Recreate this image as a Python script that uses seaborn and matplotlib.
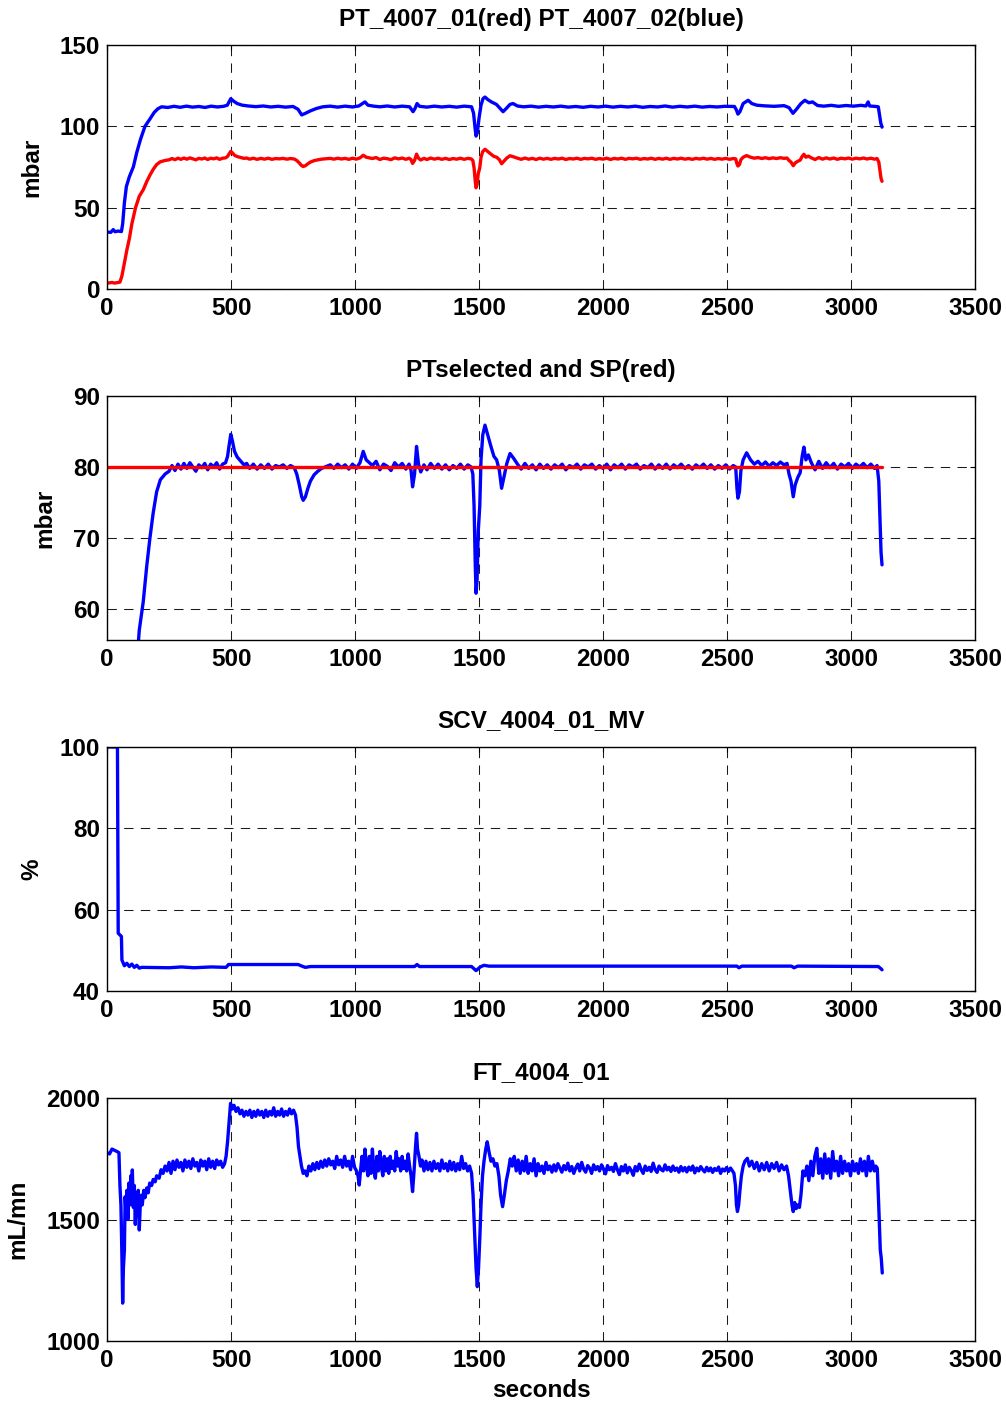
import matplotlib
matplotlib.use("Agg")
import matplotlib.pyplot as plt
import pandas as pd
import seaborn as sns

# ---- data (time in s, value) ----

# PT_4007_02 (mbar), blue in the top panel
pt02 = [(0, 35.0), (15, 34.8), (25, 36.5), (32, 35.2), (45, 35.6), (58, 35.3), (63, 40), (70, 53),
        (78, 63), (90, 69), (106, 75), (120, 84), (135, 92), (153, 100), (173, 104.5), (190, 108.5),
        (205, 110.8), (220, 112), (245, 111.6), (270, 112.3), (295, 111.7), (320, 112.4), (345, 111.8),
        (370, 112.2), (395, 111.6), (420, 112.4), (445, 111.9), (470, 112.3), (485, 113), (499, 117),
        (510, 115.5), (525, 114), (545, 113), (570, 112.5), (600, 112.1), (630, 112.5), (660, 111.9),
        (690, 112.3), (720, 111.8), (750, 112.2), (770, 110.5), (785, 107), (800, 108), (820, 109.5),
        (845, 111), (870, 112), (900, 112.4), (930, 111.8), (960, 112.4), (990, 111.9), (1015, 112.5),
        (1030, 114), (1040, 115), (1052, 113), (1075, 112.4), (1100, 112.0), (1130, 112.5), (1160, 111.9),
        (1190, 112.4), (1220, 112.0), (1234, 109), (1242, 111), (1250, 114), (1260, 112.3), (1290, 111.8),
        (1320, 112.4), (1350, 111.9), (1380, 112.3), (1410, 111.8), (1440, 112.4), (1470, 112.0),
        (1478, 108), (1484, 99), (1488, 94), (1493, 96), (1500, 105), (1508, 113), (1516, 117),
        (1524, 118), (1535, 116.5), (1550, 115), (1570, 113.5), (1585, 111), (1597, 109), (1610, 111),
        (1625, 113.5), (1637, 114), (1655, 112.5), (1680, 112), (1710, 112.4), (1740, 111.8),
        (1770, 112.3), (1800, 111.9), (1830, 112.4), (1860, 111.8), (1890, 112.2), (1920, 111.7),
        (1950, 112.3), (1980, 111.9), (2010, 112.4), (2040, 111.8), (2070, 112.3), (2100, 111.9),
        (2130, 112.4), (2160, 111.7), (2190, 112.2), (2220, 111.9), (2250, 112.5), (2280, 111.8),
        (2310, 112.3), (2340, 111.9), (2370, 112.4), (2400, 111.8), (2430, 112.2), (2460, 111.9),
        (2490, 112.3), (2530, 112.2), (2538, 110), (2544, 107.5), (2552, 109), (2565, 114), (2585, 116),
        (2600, 114), (2620, 113), (2650, 112.6), (2690, 112.3), (2730, 112.7), (2750, 111.5), (2766, 108),
        (2780, 110.5), (2798, 114), (2814, 116), (2830, 114.5), (2845, 115), (2865, 112.8), (2890, 112.4),
        (2920, 112.9), (2950, 112.3), (2980, 112.8), (3010, 112.4), (3040, 112.9), (3060, 112.5),
        (3069, 115), (3075, 112.5), (3100, 112.2), (3110, 112.0), (3115, 107), (3120, 102), (3125, 99.5)]

# PT_4007_01 (mbar), red in the top panel, also the selected PT
pt01 = [(0, 3.5), (20, 4.0), (30, 3.6), (40, 3.9), (52, 4.2), (60, 8), (70, 16), (80, 24), (90, 31),
        (100, 40), (115, 50), (130, 57), (146, 61), (160, 66), (173, 70), (186, 73.5), (200, 76.5),
        (215, 78.2), (234, 79.0), (250, 79.4), (262, 80.2), (274, 79.5), (286, 80.4), (298, 79.7),
        (310, 80.5), (322, 79.8), (334, 80.6), (346, 80.0), (358, 79.4), (370, 80.3), (382, 79.9),
        (394, 80.5), (406, 79.6), (418, 80.4), (430, 80.0), (442, 80.6), (454, 79.7), (466, 80.4),
        (478, 80.6), (486, 81.5), (492, 83.0), (499, 84.6), (506, 83.6), (514, 82.2), (525, 81.4),
        (540, 80.8), (552, 80.3), (563, 80.5), (575, 79.8), (590, 80.4), (605, 79.7), (620, 80.3),
        (635, 79.8), (650, 80.4), (665, 79.7), (680, 80.2), (695, 80.0), (710, 80.3), (725, 79.8),
        (740, 80.2), (755, 79.9), (765, 79.0), (775, 77.5), (785, 75.8), (791, 75.3), (800, 75.8),
        (810, 77.0), (820, 78.0), (835, 78.9), (850, 79.4), (865, 79.8), (886, 80.1), (900, 80.3),
        (915, 79.8), (930, 80.4), (945, 79.9), (960, 80.3), (975, 79.7), (990, 80.4), (1005, 79.8),
        (1020, 80.6), (1033, 82.2), (1045, 81.0), (1058, 80.6), (1070, 80.2), (1085, 80.8), (1100, 79.6),
        (1115, 80.4), (1130, 80.1), (1145, 79.5), (1160, 80.6), (1175, 80.0), (1190, 80.5), (1205, 79.7),
        (1218, 80.4), (1226, 79.5), (1232, 77.2), (1240, 79.0), (1248, 82.9), (1256, 80.4), (1265, 79.3),
        (1278, 80.3), (1290, 79.6), (1305, 80.5), (1320, 79.8), (1335, 80.4), (1350, 79.7), (1365, 80.3),
        (1380, 79.6), (1395, 80.2), (1410, 79.8), (1425, 80.4), (1440, 79.7), (1455, 80.3), (1468, 80.0),
        (1475, 79.0), (1480, 74.5), (1485, 66.0), (1488, 62.2), (1492, 64.0), (1497, 71.0), (1503, 74.5),
        (1508, 81.0), (1515, 84.5), (1524, 85.9), (1535, 84.5), (1548, 82.9), (1560, 81.5), (1571, 81.0),
        (1582, 79.5), (1591, 77.0), (1600, 78.5), (1612, 80.5), (1625, 81.9), (1640, 81.2), (1655, 80.4),
        (1670, 79.7), (1685, 80.5), (1700, 79.8), (1715, 80.3), (1730, 79.6), (1745, 80.4), (1760, 79.8),
        (1775, 80.3), (1790, 79.7), (1805, 80.3), (1820, 79.9), (1835, 80.4), (1850, 79.6), (1865, 80.2),
        (1880, 79.9), (1895, 80.4), (1910, 79.7), (1925, 80.3), (1940, 80.0), (1955, 80.4), (1970, 79.7),
        (1985, 80.2), (2000, 79.8), (2015, 80.4), (2030, 79.6), (2045, 80.3), (2060, 79.9), (2075, 80.4),
        (2090, 79.7), (2105, 80.3), (2120, 80.0), (2135, 80.4), (2150, 79.7), (2165, 80.2), (2180, 79.9),
        (2195, 80.4), (2210, 79.7), (2225, 80.3), (2240, 79.8), (2255, 80.4), (2270, 79.7), (2285, 80.3),
        (2300, 79.9), (2315, 80.4), (2330, 79.8), (2345, 80.2), (2360, 79.7), (2375, 80.3), (2390, 79.9),
        (2405, 80.4), (2420, 79.8), (2435, 80.3), (2450, 79.7), (2465, 80.2), (2480, 79.8), (2495, 80.3),
        (2510, 79.7), (2525, 80.2), (2535, 80.0), (2540, 77.0), (2544, 75.6), (2550, 76.5), (2556, 79.5),
        (2565, 81.0), (2579, 82.0), (2595, 81.0), (2610, 80.4), (2625, 80.8), (2640, 80.2), (2655, 80.7),
        (2670, 80.1), (2685, 80.6), (2700, 80.2), (2715, 80.7), (2730, 80.3), (2742, 80.5), (2750, 79.0),
        (2758, 78.0), (2767, 75.8), (2775, 77.5), (2785, 78.5), (2795, 79.2), (2803, 81.5), (2810, 82.8),
        (2818, 81.0), (2828, 81.7), (2840, 80.6), (2855, 79.6), (2870, 80.8), (2885, 79.8), (2900, 80.6),
        (2915, 79.9), (2930, 80.5), (2945, 79.7), (2960, 80.4), (2975, 80.0), (2990, 80.5), (3005, 79.8),
        (3020, 80.4), (3035, 80.0), (3050, 80.5), (3065, 79.9), (3080, 80.4), (3095, 79.8), (3105, 80.2),
        (3112, 78.0), (3115, 74.6), (3119, 70.0), (3121, 68.0), (3125, 66.2)]

# pressure set point (mbar)
sp = [(0, 80), (3125, 80)]

# SCV_4004_01_MV (%)
scv = [(0, 100), (42, 100), (45, 54.2), (58, 53.4), (60, 47.6), (70, 46.2), (80, 46.8), (90, 46.0),
       (100, 46.6), (110, 45.8), (120, 46.3), (130, 45.6), (140, 45.8), (250, 45.7), (300, 45.9),
       (350, 45.7), (420, 45.9), (480, 45.8), (490, 46.5), (770, 46.5), (790, 46.0), (800, 45.8),
       (820, 46.0), (1240, 46.0), (1250, 46.5), (1260, 46.0), (1470, 46.0), (1488, 45.0), (1505, 45.9),
       (1520, 46.3), (1540, 46.1), (2540, 46.1), (2548, 45.7), (2560, 46.1), (2760, 46.1), (2770, 45.7),
       (2785, 46.1), (3110, 46.0), (3120, 45.5), (3125, 45.2)]

# FT_4004_01 (mL/mn)
ft = [(0, 1775), (10, 1770), (20, 1790), (30, 1785), (40, 1780), (48, 1775), (52, 1640), (56, 1560),
      (60, 1350), (63, 1156), (66, 1300), (70, 1375), (73, 1594), (77, 1520), (80, 1620), (84, 1500),
      (88, 1650), (92, 1560), (96, 1680), (100, 1600), (102, 1704), (106, 1550), (110, 1640), (114, 1480),
      (118, 1610), (122, 1520), (126, 1620), (130, 1457), (134, 1560), (138, 1600), (142, 1560),
      (148, 1620), (153, 1590), (160, 1630), (166, 1610), (172, 1650), (180, 1640), (186, 1665),
      (194, 1655), (200, 1680), (210, 1670), (218, 1705), (226, 1690), (234, 1720), (242, 1700),
      (250, 1735), (258, 1690), (266, 1740), (274, 1705), (282, 1745), (290, 1715), (298, 1735),
      (306, 1700), (314, 1745), (322, 1715), (330, 1740), (338, 1710), (346, 1750), (354, 1720),
      (362, 1735), (370, 1700), (378, 1745), (386, 1720), (394, 1740), (402, 1705), (410, 1750),
      (418, 1715), (426, 1740), (434, 1710), (442, 1745), (450, 1725), (458, 1740), (466, 1715),
      (474, 1730), (480, 1760), (486, 1820), (492, 1900), (498, 1978), (505, 1955), (512, 1970),
      (520, 1945), (528, 1960), (536, 1935), (544, 1950), (552, 1925), (560, 1945), (568, 1930),
      (576, 1950), (584, 1920), (592, 1945), (600, 1925), (608, 1950), (616, 1930), (624, 1945),
      (632, 1920), (640, 1950), (648, 1925), (656, 1945), (664, 1930), (672, 1960), (680, 1925),
      (688, 1945), (696, 1930), (704, 1955), (712, 1925), (720, 1945), (728, 1930), (736, 1955),
      (744, 1935), (752, 1950), (760, 1930), (766, 1880), (772, 1800), (778, 1760), (784, 1720),
      (791, 1690), (798, 1700), (806, 1680), (814, 1720), (822, 1700), (830, 1730), (838, 1705),
      (846, 1735), (854, 1710), (862, 1740), (870, 1715), (878, 1745), (886, 1720), (894, 1750),
      (902, 1725), (910, 1740), (918, 1710), (926, 1760), (934, 1725), (942, 1745), (950, 1715),
      (958, 1760), (966, 1720), (974, 1740), (982, 1705), (990, 1760), (998, 1715), (1006, 1700),
      (1012, 1680), (1017, 1642), (1022, 1700), (1028, 1760), (1034, 1700), (1040, 1790), (1046, 1720),
      (1052, 1680), (1058, 1760), (1064, 1690), (1070, 1790), (1076, 1700), (1082, 1670), (1088, 1760),
      (1094, 1700), (1100, 1780), (1106, 1720), (1112, 1680), (1118, 1760), (1124, 1700), (1130, 1750),
      (1136, 1690), (1142, 1760), (1148, 1710), (1154, 1740), (1160, 1700), (1166, 1780), (1172, 1720),
      (1178, 1750), (1184, 1700), (1190, 1760), (1196, 1710), (1202, 1740), (1208, 1700), (1214, 1770),
      (1220, 1720), (1226, 1680), (1232, 1615), (1238, 1700), (1244, 1800), (1248, 1855), (1252, 1790),
      (1258, 1760), (1264, 1720), (1270, 1745), (1278, 1700), (1286, 1740), (1294, 1705), (1302, 1735),
      (1310, 1700), (1318, 1740), (1326, 1710), (1334, 1730), (1342, 1700), (1350, 1745), (1358, 1710),
      (1366, 1730), (1374, 1700), (1382, 1740), (1390, 1705), (1398, 1735), (1406, 1700), (1414, 1730),
      (1422, 1705), (1430, 1760), (1438, 1710), (1446, 1730), (1454, 1700), (1462, 1720), (1470, 1690),
      (1476, 1600), (1482, 1450), (1488, 1300), (1493, 1224), (1498, 1300), (1503, 1420), (1508, 1560),
      (1514, 1680), (1520, 1740), (1527, 1790), (1533, 1820), (1540, 1780), (1548, 1740), (1556, 1750),
      (1564, 1720), (1572, 1730), (1580, 1680), (1587, 1600), (1595, 1553), (1602, 1600), (1610, 1660),
      (1618, 1700), (1626, 1750), (1634, 1720), (1642, 1760), (1650, 1700), (1658, 1745), (1666, 1690),
      (1674, 1740), (1682, 1700), (1690, 1760), (1698, 1690), (1706, 1730), (1714, 1700), (1722, 1750),
      (1730, 1680), (1738, 1730), (1746, 1700), (1754, 1720), (1762, 1690), (1770, 1735), (1778, 1705),
      (1786, 1720), (1794, 1695), (1802, 1725), (1810, 1700), (1818, 1730), (1826, 1712), (1834, 1695),
      (1842, 1722), (1850, 1705), (1858, 1732), (1866, 1700), (1874, 1718), (1882, 1690), (1890, 1712),
      (1898, 1728), (1906, 1700), (1914, 1735), (1922, 1708), (1930, 1695), (1938, 1722), (1946, 1712),
      (1954, 1690), (1962, 1725), (1970, 1705), (1978, 1718), (1986, 1700), (1994, 1725), (2002, 1708),
      (2010, 1688), (2018, 1722), (2026, 1705), (2034, 1715), (2042, 1698), (2050, 1730), (2058, 1705),
      (2066, 1685), (2074, 1718), (2082, 1700), (2090, 1725), (2098, 1692), (2106, 1715), (2114, 1702),
      (2122, 1682), (2130, 1718), (2138, 1700), (2146, 1728), (2154, 1705), (2162, 1690), (2170, 1720),
      (2178, 1702), (2186, 1715), (2194, 1698), (2202, 1732), (2210, 1705), (2218, 1694), (2226, 1720),
      (2234, 1706), (2242, 1700), (2250, 1725), (2258, 1704), (2266, 1715), (2274, 1698), (2282, 1720),
      (2290, 1702), (2298, 1712), (2306, 1695), (2314, 1718), (2322, 1700), (2330, 1714), (2338, 1696),
      (2346, 1716), (2354, 1703), (2362, 1720), (2370, 1692), (2378, 1712), (2386, 1700), (2394, 1718),
      (2402, 1705), (2410, 1696), (2418, 1715), (2426, 1700), (2434, 1712), (2442, 1694), (2450, 1710),
      (2458, 1702), (2466, 1716), (2474, 1690), (2482, 1708), (2490, 1700), (2498, 1714), (2506, 1698),
      (2514, 1712), (2522, 1700), (2528, 1690), (2534, 1640), (2538, 1560), (2542, 1533), (2547, 1560),
      (2552, 1620), (2558, 1680), (2565, 1720), (2572, 1740), (2582, 1752), (2590, 1720), (2600, 1740),
      (2610, 1710), (2620, 1735), (2630, 1700), (2640, 1730), (2650, 1705), (2660, 1735), (2670, 1700),
      (2680, 1730), (2690, 1710), (2700, 1735), (2710, 1700), (2720, 1725), (2730, 1705), (2740, 1720),
      (2748, 1680), (2755, 1620), (2762, 1560), (2767, 1533), (2773, 1570), (2779, 1545), (2785, 1560),
      (2792, 1550), (2798, 1600), (2806, 1700), (2814, 1680), (2822, 1720), (2830, 1660), (2838, 1740),
      (2846, 1680), (2854, 1760), (2862, 1793), (2870, 1690), (2878, 1750), (2886, 1670), (2894, 1770),
      (2902, 1690), (2910, 1750), (2918, 1670), (2926, 1780), (2934, 1700), (2942, 1740), (2950, 1680),
      (2958, 1760), (2966, 1690), (2974, 1740), (2982, 1700), (2990, 1730), (2998, 1680), (3006, 1740),
      (3014, 1700), (3022, 1730), (3030, 1690), (3038, 1750), (3046, 1700), (3054, 1740), (3062, 1680),
      (3070, 1760), (3078, 1700), (3086, 1740), (3094, 1700), (3100, 1720), (3106, 1711), (3112, 1550),
      (3118, 1375), (3122, 1340), (3126, 1280)]

titles = ["PT_4007_01(red) PT_4007_02(blue)", "PTselected and SP(red)", "SCV_4004_01_MV", "FT_4004_01"]
ylabels = ["mbar", "mbar", "%", "mL/mn"]
ylims = [(0, 150), (55.6, 90), (40, 100), (1000, 2000)]
yticks = [[0, 50, 100, 150], [60, 70, 80, 90], [40, 60, 80, 100], [1000, 1500, 2000]]
xticks = [0, 500, 1000, 1500, 2000, 2500, 3000, 3500]


def to_df(points):
    return pd.DataFrame(points, columns=["t", "v"])


sns.set_style("white")
plt.rcParams["font.family"] = ["Liberation Sans", "DejaVu Sans"]
plt.rcParams["font.weight"] = "bold"
plt.rcParams["axes.labelweight"] = "bold"
plt.rcParams["axes.titleweight"] = "bold"
plt.rcParams["text.color"] = "black"
plt.rcParams["axes.labelcolor"] = "black"
plt.rcParams["xtick.color"] = "black"
plt.rcParams["ytick.color"] = "black"

fs = 17.5

fig = plt.figure(figsize=(10.06, 14.02), dpi=100)
fig.patch.set_facecolor("white")

# axes boxes in figure fractions (left, bottom, width, height)
boxes = [(0.1064, 0.7939, 0.8628, 0.1740), (0.1064, 0.5435, 0.8628, 0.1740),
         (0.1064, 0.2932, 0.8628, 0.1740), (0.1064, 0.0435, 0.8628, 0.1733)]
axes = [fig.add_axes(b) for b in boxes]

blue = (0, 0, 1)
red = (1, 0, 0)
lw = 2.4

sns.lineplot(data=to_df(pt02), x="t", y="v", ax=axes[0], color=blue, linewidth=lw, sort=False)
sns.lineplot(data=to_df(pt01), x="t", y="v", ax=axes[0], color=red, linewidth=lw, sort=False)
sns.lineplot(data=to_df(pt01), x="t", y="v", ax=axes[1], color=blue, linewidth=lw, sort=False)
sns.lineplot(data=to_df(sp), x="t", y="v", ax=axes[1], color=red, linewidth=lw, sort=False)
sns.lineplot(data=to_df(scv), x="t", y="v", ax=axes[2], color=blue, linewidth=lw, sort=False)
sns.lineplot(data=to_df(ft), x="t", y="v", ax=axes[3], color=blue, linewidth=lw, sort=False)

for i, ax in enumerate(axes):
    ax.set_xlim(0, 3500)
    ax.set_ylim(*ylims[i])
    ax.set_xticks(xticks)
    ax.set_yticks(yticks[i])
    ax.set_title(titles[i], fontsize=fs, fontweight="bold", pad=14, color="black")
    ax.set_ylabel(ylabels[i], fontsize=fs, fontweight="bold", labelpad=12)
    ax.set_xlabel("")
    ax.tick_params(direction="in", top=True, right=True, length=3.6, width=0.8,
                   labelsize=fs, pad=6)
    ax.tick_params(axis="y", pad=5)
    for lab in ax.get_xticklabels() + ax.get_yticklabels():
        lab.set_fontweight("bold")
    ax.grid(True, color="0.1", linewidth=0.75, linestyle=(0, (9, 7)))
    ax.set_axisbelow(True)
    for s in ax.spines.values():
        s.set_color("black")
        s.set_linewidth(1.0)

axes[3].set_xlabel("seconds", fontsize=fs, fontweight="bold", labelpad=5)

fig.savefig("out.png", dpi=100)
